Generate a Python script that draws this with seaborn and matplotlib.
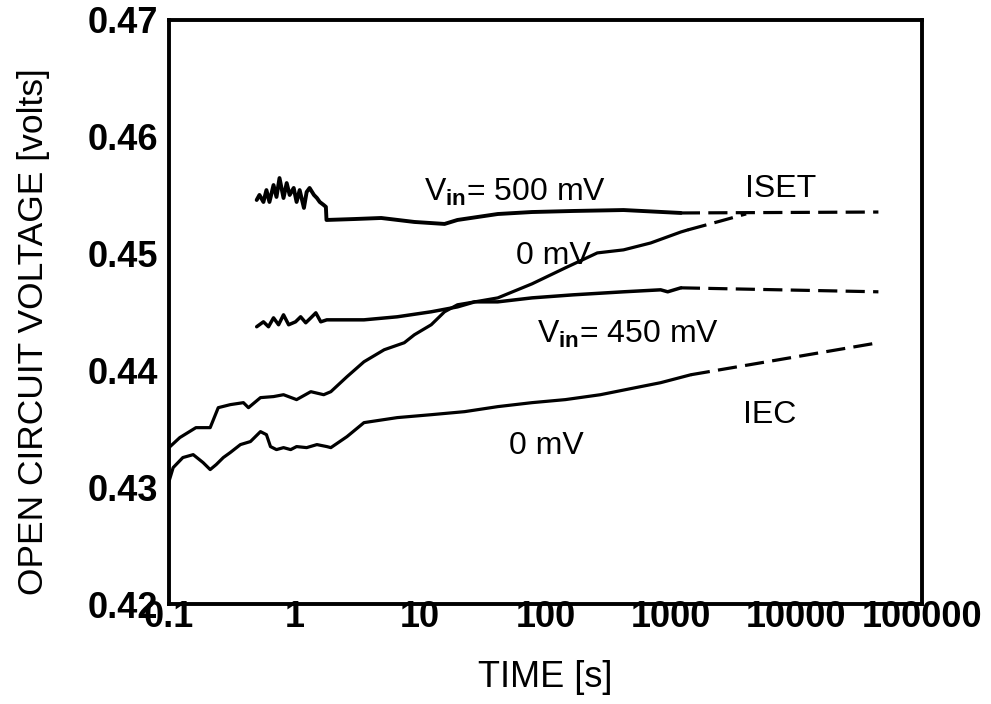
import matplotlib
matplotlib.use("Agg")
import matplotlib.pyplot as plt
from matplotlib.ticker import NullLocator
import seaborn as sns
import pandas as pd

# ---- data ----
iset500_t = [0.50, 0.526, 0.566, 0.598, 0.632, 0.681, 0.719, 0.760, 0.818, 0.867, 0.916, 0.986,
             1.04, 1.10, 1.19, 1.25, 1.32, 1.43, 1.51, 1.59, 1.71, 1.78, 1.80, 3.0, 4.91, 9.02,
             15.7, 19.9, 41.7, 78.1, 166, 419, 1199]
iset500_v = [0.45459, 0.45502, 0.45442, 0.45544, 0.45442, 0.45587, 0.45485, 0.45647, 0.45476,
             0.45604, 0.45502, 0.45562, 0.45442, 0.45544, 0.45391, 0.45527, 0.45562, 0.45502,
             0.45476, 0.45442, 0.45416, 0.45400, 0.45288, 0.45296, 0.45305, 0.45271, 0.45254,
             0.45288, 0.45339, 0.45356, 0.45365, 0.45373, 0.45348]
iset500_ext_t = [1199, 45000]
iset500_ext_v = [0.45348, 0.45356]

iset0_t = [0.10, 0.122, 0.164, 0.213, 0.247, 0.308, 0.392, 0.430, 0.536, 0.681, 0.818, 1.04,
           1.35, 1.71, 1.95, 2.62, 3.58, 5.19, 7.50, 9.02, 12.3, 15.7, 19.9, 27.3, 41.7, 78.1,
           144, 259, 419, 689, 1199, 1364]
iset0_v = [0.43339, 0.43425, 0.43510, 0.43510, 0.43681, 0.43707, 0.43724, 0.43681, 0.43767,
           0.43776, 0.43792, 0.43750, 0.43818, 0.43792, 0.43818, 0.43946, 0.44074, 0.44177,
           0.44237, 0.44305, 0.44391, 0.44502, 0.44562, 0.44587, 0.44621, 0.44741, 0.44878,
           0.45006, 0.45032, 0.45091, 0.45185, 0.45203]
iset0_ext_t = [1364, 2506, 3974]
iset0_ext_v = [0.45203, 0.45280, 0.45340]

v450_t = [0.50, 0.566, 0.621, 0.681, 0.747, 0.818, 0.899, 1.02, 1.12, 1.23, 1.35, 1.48, 1.62,
          1.81, 3.58, 6.59, 12.3, 19.9, 27.3, 41.7, 78.1, 166, 419, 828, 942, 1199]
v450_v = [0.44374, 0.44416, 0.44374, 0.44450, 0.44391, 0.44476, 0.44391, 0.44416, 0.44459,
          0.44408, 0.44450, 0.44493, 0.44416, 0.44433, 0.44433, 0.44459, 0.44502, 0.44544,
          0.44587, 0.44587, 0.44621, 0.44647, 0.44673, 0.44690, 0.44673, 0.44707]
v450_ext_t = [1199, 45000]
v450_ext_v = [0.44707, 0.44673]

iec0_t = [0.10, 0.108, 0.129, 0.156, 0.187, 0.213, 0.238, 0.271, 0.308, 0.371, 0.446, 0.536,
          0.598, 0.644, 0.719, 0.818, 0.933, 1.04, 1.25, 1.51, 1.81, 1.95, 2.62, 3.58, 6.59,
          12.3, 22.7, 41.7, 78.1, 144, 274, 573, 828, 1442]
iec0_v = [0.43049, 0.43168, 0.43254, 0.43279, 0.43211, 0.43151, 0.43194, 0.43254, 0.43297,
          0.43365, 0.43391, 0.43476, 0.43450, 0.43348, 0.43322, 0.43339, 0.43322, 0.43348,
          0.43339, 0.43365, 0.43348, 0.43339, 0.43433, 0.43553, 0.43596, 0.43621, 0.43647,
          0.43690, 0.43724, 0.43750, 0.43792, 0.43861, 0.43895, 0.43963]
iec0_ext_t = [1442, 45000]
iec0_ext_v = [0.43963, 0.44237]

x_ticks = [0.1, 1, 10, 100, 1000, 10000, 100000]
x_tick_labels = ["0.1", "1", "10", "100", "1000", "10000", "100000"]
y_ticks = [0.42, 0.43, 0.44, 0.45, 0.46, 0.47]
y_tick_labels = ["0.42", "0.43", "0.44", "0.45", "0.46", "0.47"]

# annotations: (text, t, v)
annotations = [
    (r"V$_{\mathbf{in}}$= 500 mV", 10.8, 0.45450),
    ("ISET", 3900, 0.45485),
    ("0 mV", 58.1, 0.44912),
    (r"V$_{\mathbf{in}}$= 450 mV", 85.7, 0.44237),
    ("IEC", 3760, 0.43553),
    ("0 mV", 51.1, 0.43288),
]

# ---- style ----
sns.set_theme(style="white")
plt.rcParams["font.family"] = ["Liberation Sans", "DejaVu Sans"]
plt.rcParams["mathtext.fontset"] = "custom"
plt.rcParams["mathtext.rm"] = "Liberation Sans"
plt.rcParams["mathtext.bf"] = "Liberation Sans:bold"
plt.rcParams["mathtext.it"] = "Liberation Sans:italic"
for k in ["text.color", "axes.labelcolor", "xtick.color", "ytick.color", "axes.edgecolor"]:
    plt.rcParams[k] = "black"

fig = plt.figure(figsize=(9.91, 7.04), dpi=100)
ax = fig.add_axes([0.1705, 0.142, 0.7598, 0.8296])

solid = [(iset500_t, iset500_v, 2.8), (iset0_t, iset0_v, 2.3),
         (v450_t, v450_v, 2.5), (iec0_t, iec0_v, 2.3)]
dashed = [(iset500_ext_t, iset500_ext_v), (iset0_ext_t, iset0_ext_v),
          (v450_ext_t, v450_ext_v), (iec0_ext_t, iec0_ext_v)]

for t, v, lw in solid:
    df = pd.DataFrame({"t": t, "v": v})
    sns.lineplot(data=df, x="t", y="v", ax=ax, color="black", lw=lw,
                 estimator=None, sort=False)
for t, v in dashed:
    df = pd.DataFrame({"t": t, "v": v})
    sns.lineplot(data=df, x="t", y="v", ax=ax, color="black", lw=2.3,
                 linestyle=(0, (6.0, 2.6)), estimator=None, sort=False)

ax.set_xscale("log")
ax.set_xlim(0.1, 100000)
ax.set_ylim(0.42, 0.47)
ax.set_xticks(x_ticks)
ax.set_xticklabels(x_tick_labels, fontsize=26, fontweight="bold", color="black")
ax.xaxis.set_minor_locator(NullLocator())
ax.set_yticks(y_ticks)
ax.set_yticklabels(y_tick_labels, fontsize=26, fontweight="bold", color="black")
ax.tick_params(direction="in", length=8, width=2.5, color="black")
ax.tick_params(axis="x", pad=-3)
ax.tick_params(axis="y", pad=8)
for s in ax.spines.values():
    s.set_linewidth(2.8)
    s.set_color("black")

ax.set_xlabel("TIME [s]", fontsize=26, color="black")
ax.set_ylabel("OPEN CIRCUIT VOLTAGE [volts]", fontsize=25.5, color="black")
ax.xaxis.set_label_coords(0.5, -0.095)
ax.yaxis.set_label_coords(-0.158, 0.466)

for txt, t, v in annotations:
    ax.text(t, v, txt, fontsize=23, ha="left", va="baseline", color="black")

fig.savefig("out.png", dpi=100, facecolor="white")
